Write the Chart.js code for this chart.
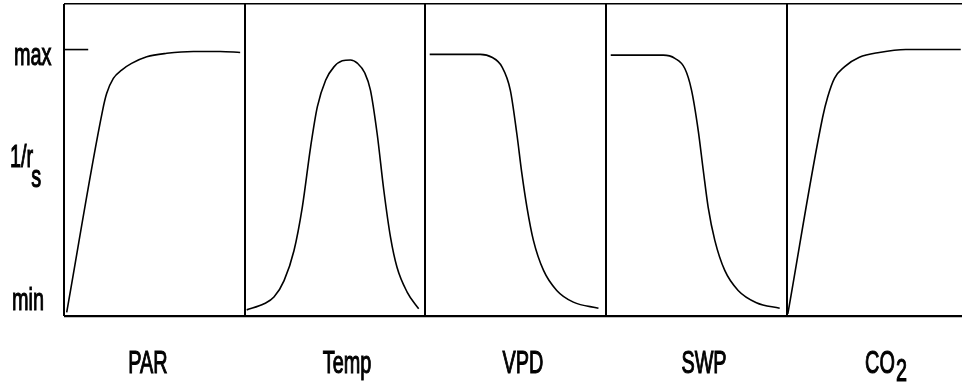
<!DOCTYPE html>
<html>
<head>
<meta charset="utf-8">
<script src="https://cdn.jsdelivr.net/npm/chart.js@4.4.1/dist/chart.umd.min.js"></script>
<style>
  html, body { margin: 0; padding: 0; background: #fff; }
  #wrap { width: 962px; height: 385px; position: relative; }
</style>
</head>
<body>
<div id="wrap"><canvas id="chart"></canvas></div>
<script>
// Panel order and axis texts
const panels = ['PAR', 'Temp', 'VPD', 'SWP', 'CO2'];
const yTickLabels = ['max', '1/r', 'min'];

// Curve points: x = fraction of panel width, y = 0 (min) .. 1 (max)
const parX = [0.015, 0.214, 0.236, 0.273, 0.319, 0.374, 0.458, 0.569, 0.716, 0.864, 0.975];
const parY = [0.014, 0.773, 0.835, 0.892, 0.923, 0.948, 0.973, 0.986, 0.993, 0.993, 0.989];

const tempX = [0.011, 0.107, 0.162, 0.218, 0.273, 0.319, 0.365, 0.402, 0.448, 0.494, 0.540, 0.585, 0.625, 0.665, 0.696, 0.733, 0.770, 0.807, 0.843, 0.899, 0.963];
const tempY = [0.023, 0.046, 0.071, 0.133, 0.246, 0.409, 0.635, 0.785, 0.885, 0.935, 0.958, 0.961, 0.948, 0.912, 0.848, 0.685, 0.472, 0.296, 0.183, 0.090, 0.027];

const vpdX = [0.024, 0.304, 0.368, 0.424, 0.470, 0.506, 0.534, 0.562, 0.598, 0.654, 0.727, 0.819, 0.958];
const vpdY = [0.982, 0.982, 0.971, 0.935, 0.848, 0.685, 0.535, 0.409, 0.284, 0.171, 0.096, 0.052, 0.029];

const swpX = [0.026, 0.317, 0.381, 0.436, 0.473, 0.510, 0.538, 0.565, 0.602, 0.657, 0.731, 0.832, 0.961];
const swpY = [0.979, 0.979, 0.967, 0.929, 0.848, 0.697, 0.547, 0.409, 0.284, 0.171, 0.096, 0.050, 0.029];

const co2X = [0.006, 0.199, 0.227, 0.264, 0.319, 0.402, 0.512, 0.659, 0.963];
const co2Y = [0.008, 0.747, 0.823, 0.892, 0.935, 0.971, 0.989, 1.000, 1.000];

// short "max" marker at the left of the first panel
const maxMarkX = [0, 0.134];
const maxMarkY = [1, 1];

const X_MAX = 4.97;
const Y_MAX = 1.171;

function toPoints(xs, ys, panel) {
    return xs.map((x, i) => ({ x: panel + x, y: ys[i] }));
}

function curve(xs, ys, panel, smooth) {
    return {
        data: toPoints(xs, ys, panel),
        borderColor: '#000',
        borderWidth: 1.6,
        pointRadius: 0,
        fill: false,
        cubicInterpolationMode: smooth ? 'monotone' : 'default',
        tension: 0
    };
}

const NARROW = 0.64;
const FONT = '31px "Liberation Sans", Arial, sans-serif';

// condensed text, a thin stroke makes it as heavy as the scanned lettering
function drawNarrow(ctx, text, x, y, align) {
    ctx.save();
    ctx.font = FONT;
    const w = ctx.measureText(text).width * NARROW;
    let left = x;
    if (align === 'center') left = x - w / 2;
    ctx.translate(left, y);
    ctx.scale(NARROW, 1);
    ctx.textAlign = 'left';
    ctx.textBaseline = 'alphabetic';
    ctx.lineWidth = 1.1;
    ctx.strokeStyle = '#000';
    ctx.fillText(text, 0, 0);
    ctx.strokeText(text, 0, 0);
    ctx.restore();
    return w;
}

const textPlugin = {
    id: 'texts',
    afterDraw(chart) {
        const ctx = chart.ctx;
        ctx.fillStyle = '#000';
        // y side labels
        drawNarrow(ctx, yTickLabels[0], 14, 65, 'left');
        const w = drawNarrow(ctx, yTickLabels[1], 10, 167, 'left');
        drawNarrow(ctx, 's', 10 + w - 2, 187, 'left');
        drawNarrow(ctx, yTickLabels[2], 12, 310, 'left');
        // panel names under the axis
        const centers = [148, 347, 523, 704, 880];
        panels.forEach((name, i) => {
            if (name === 'CO2') {
                const wCO = drawNarrow(ctx, 'CO', centers[i], 373, 'center');
                drawNarrow(ctx, '2', centers[i] + wCO / 2 + 1, 381, 'left');
            } else {
                drawNarrow(ctx, name, centers[i], 373, 'center');
            }
        });
    }
};

const ctx = document.getElementById('chart').getContext('2d');
new Chart(ctx, {
    type: 'line',
    data: {
        datasets: [
            curve(maxMarkX, maxMarkY, 0, false),
            curve(parX, parY, 0, true),
            curve(tempX, tempY, 1, true),
            curve(vpdX, vpdY, 2, true),
            curve(swpX, swpY, 3, true),
            curve(co2X, co2Y, 4, true)
        ]
    },
    options: {
        responsive: true,
        maintainAspectRatio: false,
        animation: false,
        layout: { padding: { left: 64, top: 4, right: 0, bottom: 69 } },
        scales: {
            x: {
                type: 'linear',
                min: 0,
                max: X_MAX,
                ticks: { display: false, stepSize: 1 },
                border: { display: false },
                grid: {
                    drawTicks: false,
                    lineWidth: 2,
                    color: c => (Number.isInteger(c.tick.value) ? '#000' : 'rgba(0,0,0,0)')
                }
            },
            y: {
                min: 0,
                max: Y_MAX,
                ticks: { display: false },
                border: { display: false },
                grid: {
                    drawTicks: false,
                    lineWidth: c => (c.tick.value === 0 ? 2.2 : 1.4),
                    color: c => (c.tick.value === 0 || c.tick.value === Y_MAX ? '#000' : 'rgba(0,0,0,0)')
                }
            }
        },
        plugins: {
            legend: { display: false },
            tooltip: { enabled: false }
        }
    },
    plugins: [textPlugin]
});
</script>
</body>
</html>
